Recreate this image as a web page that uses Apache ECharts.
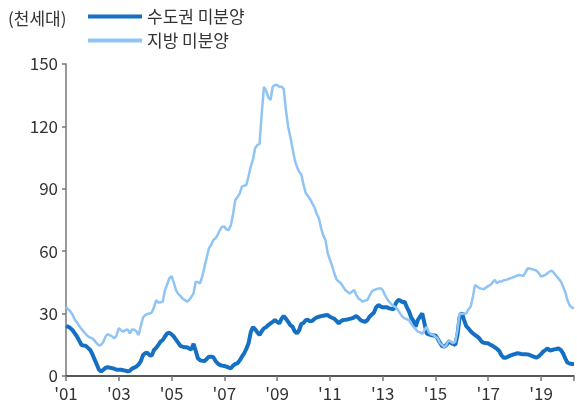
<!DOCTYPE html>
<html>
<head>
<meta charset="utf-8">
<script src="https://cdn.jsdelivr.net/npm/echarts@6/dist/echarts.min.js"></script>
<style>
  html, body { margin: 0; padding: 0; background: #fff; }
  #main { width: 577px; height: 407px; }
</style>
</head>
<body>
<div id="main"></div>
<script>
// monthly, Jan 2001 .. Apr 2020 (thousand units)
var metroVals = [
  24, 23.7, 23, 22, 20.5, 19, 17, 15, 14.6, 14.5, 13.5, 12.5,
  10.5, 8, 5.5, 3, 2.2, 3, 4, 4.2, 4, 3.8, 3.5, 3,
  3, 3, 2.8, 2.6, 2.2, 2.5, 3.6, 4, 4.6, 5.5, 7, 10,
  11, 11.2, 10, 9.8, 12.5, 13.5, 15, 16.5, 17.3, 19, 20.5, 20.8,
  20, 19, 17.5, 16, 14.5, 14.1, 13.8, 13.8, 13.2, 12.8, 15.5, 12,
  8.5, 7.5, 7.3, 7.2, 8.2, 9.3, 9.3, 9, 7.2, 6, 5.3, 5,
  4.8, 4.5, 4, 3.7, 5, 5.8, 6.1, 7.5, 9.3, 10.9, 13, 15.7,
  21, 23.5, 22.5, 21, 19.7, 21.5, 22.9, 23.5, 24.5, 25.3, 26, 26.9,
  26, 25.3, 27.5, 28.8, 27.5, 26.1, 24.5, 23.7, 21.5, 20.5, 22, 25,
  25.5, 26.8, 27, 26.3, 26.5, 27.5, 28.2, 28.5, 28.8, 29, 29.2, 29.3,
  28.5, 28, 27.5, 26.5, 25.3, 26.3, 26.9, 27, 27.2, 27.5, 27.7, 28.2,
  28.8, 28, 26.8, 26.3, 26.1, 26.8, 28.5, 29.5, 30.4, 33, 34.1, 33.5,
  33, 33, 33, 32.5, 32.3, 32, 35, 36.5, 36.3, 35.5, 35.7, 33,
  31, 28, 26.5, 23.7, 27, 28.5, 30.1, 25.3, 20.5, 20, 19.7, 19.5,
  19.5, 18, 16, 14.4, 14.1, 15, 16.5, 16, 15.4, 15, 19.7, 28.5,
  30.4, 27, 24, 22.9, 21.5, 20.5, 19.7, 19, 18, 16.5, 16, 15.8,
  15.7, 15, 14.5, 13.8, 13, 12, 10, 8.8, 8.8, 9.3, 9.8, 10.2,
  10.5, 10.9, 10.8, 10.6, 10.5, 10.5, 10.4, 10, 9.6, 9.2, 8.8, 9.5,
  10.5, 11.7, 12.5, 13.3, 12.2, 12.5, 12.8, 13, 13.3, 12.5, 11, 8.5,
  6.5, 6, 5.8, 5.8
];
var localVals = [
  33.3, 32, 31, 29.5, 27, 25.8, 24, 22.7, 21.3, 20.2, 19, 18.5,
  18.1, 17, 15.7, 14.7, 15, 16.5, 19, 20.2, 19.5, 19, 18.1, 19.5,
  23, 22, 21.3, 22, 22.4, 20.5, 22.4, 22.2, 21.5, 19.7, 24, 28,
  29.3, 29.8, 30, 30.5, 33, 36.5, 35.3, 35.5, 35.7, 41.3, 44, 47,
  48, 45, 41.3, 39.5, 38.5, 37.3, 36.5, 35.7, 36.5, 38, 39.7, 45.4,
  45, 44.6, 48, 52.6, 57, 61.4, 63, 65.4, 66.2, 68, 70.2, 71.8,
  71.8, 70.5, 70.2, 72.6, 78, 84.6, 86, 87.8, 91, 91.5, 91.8, 96,
  100.6, 104, 109.5, 111.1, 111.5, 126.3, 139, 137, 134, 132.7, 139.1, 139.9,
  139.9, 139.1, 139.1, 138, 128, 120, 115, 109.5, 104, 100.6, 98.2, 97,
  92, 88, 86.5, 85, 83, 81, 78, 75.8, 71, 67.5, 65.4, 59,
  56, 53, 49.4, 46.5, 45.4, 44.6, 43, 41.3, 40.5, 39.7, 40.5, 41.3,
  39, 37.3, 36.5, 35.7, 36.3, 36.5, 38.5, 40.5, 41.3, 41.7, 42, 42.2,
  41.3, 39, 37, 35.7, 34.5, 33.6, 33, 31.7, 30, 28.5, 27.7, 27.3,
  26.9, 25, 23.7, 22.5, 21.3, 21, 20.2, 22, 23.7, 21, 20, 19.7,
  19, 18.1, 15.8, 14.9, 13.8, 15, 17.3, 16.5, 15.7, 16.5, 22, 30.1,
  29.8, 30, 30.1, 32, 33.3, 38, 43.8, 43, 42.2, 42, 41.7, 42.5,
  43.2, 43.8, 45, 46.2, 44.6, 45.4, 45.4, 46, 46.2, 46.5, 47, 47.3,
  47.8, 48.2, 48.6, 48.4, 48.1, 50, 51.8, 51.6, 51.3, 51, 50.6, 49.5,
  47.8, 48.2, 48.6, 49.5, 50.3, 50.6, 49.4, 48, 46.8, 45.5, 43, 40.5,
  36.5, 34, 33, 32.5
];
var xTickLabels = ["'01", "'03", "'05", "'07", "'09", "'11", "'13", "'15", "'17", "'19"];
var seriesNames = ['수도권 미분양', '지방 미분양'];
var unitLabel = '(천세대)';

var FONT = '"Noto Sans CJK KR", "Noto Sans", sans-serif';
var chart = echarts.init(document.getElementById('main'));

function pairs(vals) {
  return vals.map(function (v, i) { return [i, v]; });
}

chart.setOption({
  animation: false,
  textStyle: { fontFamily: FONT },
  title: {
    text: unitLabel,
    left: 3,
    top: 5,
    textStyle: { fontSize: 17, fontWeight: 'normal', color: '#333', fontFamily: FONT }
  },
  legend: {
    data: seriesNames,
    orient: 'vertical',
    left: 88,
    top: 8,
    padding: 0,
    itemGap: 7,
    itemWidth: 54,
    itemHeight: 4,
    icon: 'rect',
    textStyle: { fontSize: 17, color: '#333', fontFamily: FONT }
  },
  grid: { left: 66, right: 1, top: 64, bottom: 31, containLabel: false },
  xAxis: {
    type: 'value',
    min: 0,
    max: 231,
    interval: 24,
    axisLine: { lineStyle: { color: '#222', width: 1.5 } },
    axisTick: { length: 5, lineStyle: { color: '#777', width: 1.5 } },
    axisLabel: {
      fontSize: 17,
      color: '#333',
      margin: 9,
      formatter: function (v) { return xTickLabels[v / 24] || ''; }
    },
    splitLine: { show: false }
  },
  yAxis: {
    type: 'value',
    min: 0,
    max: 150,
    interval: 30,
    axisLine: { show: true, lineStyle: { color: '#777', width: 1.5 } },
    axisTick: { show: true, length: 4, lineStyle: { color: '#777', width: 1.5 } },
    axisLabel: { fontSize: 17, color: '#333', margin: 8 },
    splitLine: { show: false }
  },
  series: [
    {
      name: seriesNames[0],
      type: 'line',
      data: pairs(metroVals),
      showSymbol: false,
      lineStyle: { color: '#1570c4', width: 4 },
      itemStyle: { color: '#1570c4' },
      z: 2
    },
    {
      name: seriesNames[1],
      type: 'line',
      data: pairs(localVals),
      showSymbol: false,
      lineStyle: { color: '#90c4f4', width: 2.5 },
      itemStyle: { color: '#90c4f4' },
      z: 3
    }
  ]
});
</script>
</body>
</html>
